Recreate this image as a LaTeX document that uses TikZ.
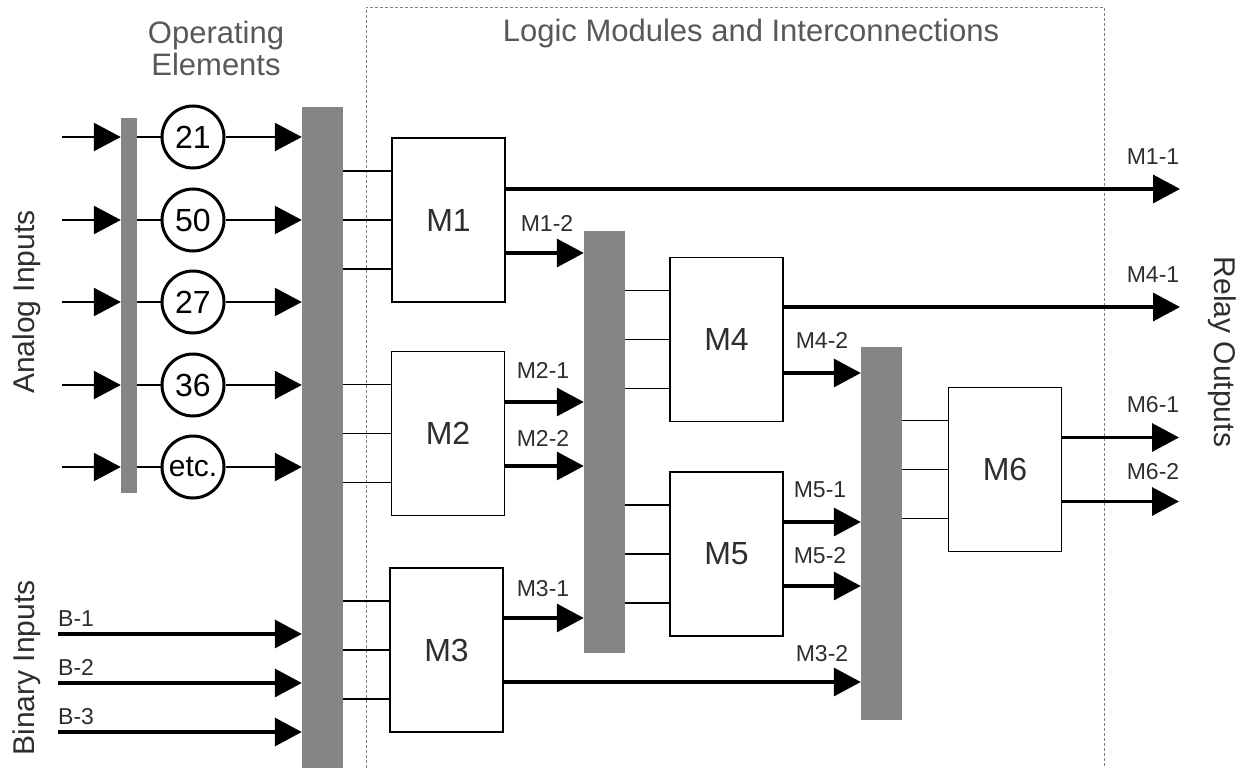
\documentclass[tikz,border=0pt]{standalone}
\usepackage{fontspec}
\setmainfont{Liberation Sans}
\usetikzlibrary{arrows.meta}
\definecolor{txt}{gray}{0.18}
\definecolor{busgray}{gray}{0.52}
\tikzset{
  bus/.style={rectangle, draw=none, fill=busgray, inner sep=0pt},
  module/.style={rectangle, draw=black, line width=1.6pt, fill=white, minimum width=113pt, minimum height=164pt, inner sep=0pt, text=txt, font=\fontsize{32}{32}\selectfont},
  elem/.style={circle, draw=black, line width=3pt, minimum size=62pt, inner sep=0pt, text=black, font=\fontsize{32}{32}\selectfont},
  sig/.style={line width=3.4pt, -{Triangle[length=27pt,width=28pt]}},
  thinsig/.style={line width=2.6pt, -{Triangle[length=27pt,width=28pt]}},
  wire/.style={line width=1.4pt},
  lbl/.style={text=txt, font=\fontsize{23}{23}\selectfont, inner sep=0pt},
  ttl/.style={text=txt!80, font=\fontsize{31}{32}\selectfont, inner sep=0pt, align=center},
  side/.style={text=txt, font=\fontsize{30}{30}\selectfont, inner sep=0pt},
  frame/.style={draw=gray, line width=0.8pt, dash pattern=on 3pt off 2pt}
}
\begin{document}
\begin{tikzpicture}[x=1pt,y=-1pt]
\useasboundingbox (0,0) rectangle (1247,768);
% frame
\coordinate (fbl) at (366,768);
\coordinate (ftl) at (366,7);
\coordinate (ftr) at (1104,7);
\coordinate (fbr) at (1104,768);
\draw[frame] (fbl) -- (ftl) -- (ftr) -- (fbr);
% titles
\node[ttl] (t1) at (216,48) {Operating\\Elements};
\node[ttl] (t2) at (751,33) {Logic Modules and Interconnections};
\node[side, rotate=90] (sa) at (27,302) {Analog Inputs};
\node[side, rotate=90] (sb) at (27,668) {Binary Inputs};
\node[side, rotate=-90] (sr) at (1222,352) {Relay Outputs};
% buses
\node[bus, minimum width=16pt, minimum height=375pt] (bus0) at (129,305.5) {};
\node[bus, minimum width=41pt, minimum height=661pt] (bus1) at (322.5,437.5) {};
\node[bus, minimum width=41pt, minimum height=422pt] (bus2) at (604.5,442) {};
\node[bus, minimum width=41pt, minimum height=373pt] (bus3) at (881.5,533.5) {};
% operating elements
\node[elem] (e1) at (193,137) {21};
\node[elem] (e2) at (193,220) {50};
\node[elem] (e3) at (193,302) {27};
\node[elem] (e4) at (193,385) {36};
\node[elem, font=\fontsize{30}{30}\selectfont] (e5) at (193,467) {etc.};
% analog inputs
\foreach \i/\y in {1/137,2/220,3/302,4/385,5/467}{
  \coordinate (a\i) at (62,\y);
  \draw[thinsig] (a\i) -- (a\i -| bus0.west);
  \draw[wire] (e\i -| bus0.east) -- (e\i.west);
  \draw[thinsig] (e\i.east) -- (e\i -| bus1.west);
}
% binary inputs
\foreach \i/\y in {1/634,2/683,3/732}{
  \coordinate (b\i) at (58,\y);
  \draw[sig] (b\i) -- (b\i -| bus1.west);
  \node[lbl, anchor=base west] (bl\i) at (58,\y-8) {B-\i};
}
% modules
\node[module] (M1) at (448.5,220) {M1};
\node[module] (M2) at (448,433.5) {M2};
\node[module] (M3) at (446.5,650) {M3};
\node[module] (M4) at (726.5,339.5) {M4};
\node[module] (M5) at (726.5,554) {M5};
\node[module] (M6) at (1005,469.5) {M6};
% module inputs
\foreach \m/\b in {M1/bus1,M2/bus1,M3/bus1,M4/bus2,M5/bus2,M6/bus3}{
  \foreach \s in {49,0,-49}{
    \draw[wire] ([yshift=\s pt]\m.west -| \b.east) -- ([yshift=\s pt]\m.west);
  }
}
% outputs
\coordinate (r1) at (1180,189);
\coordinate (r4) at (1180,307);
\coordinate (r61) at (1179,437);
\coordinate (r62) at (1179,502);
\draw[sig] (M1.east |- r1) -- (r1);
\draw[sig] (M4.east |- r4) -- (r4);
\draw[sig] ([yshift=32pt]M6.east) -- ([yshift=32pt]M6.east -| r61);
\draw[sig] ([yshift=-32pt]M6.east) -- ([yshift=-32pt]M6.east -| r62);
\draw[sig] ([yshift=-33pt]M1.east) -- ([yshift=-33pt]M1.east -| bus2.west);
\draw[sig] ([yshift=31.5pt]M2.east) -- ([yshift=31.5pt]M2.east -| bus2.west);
\draw[sig] ([yshift=-32.5pt]M2.east) -- ([yshift=-32.5pt]M2.east -| bus2.west);
\draw[sig] ([yshift=32pt]M3.east) -- ([yshift=32pt]M3.east -| bus2.west);
\draw[sig] ([yshift=-32pt]M3.east) -- ([yshift=-32pt]M3.east -| bus3.west);
\draw[sig] ([yshift=-33.5pt]M4.east) -- ([yshift=-33.5pt]M4.east -| bus3.west);
\draw[sig] ([yshift=32pt]M5.east) -- ([yshift=32pt]M5.east -| bus3.west);
\draw[sig] ([yshift=-32pt]M5.east) -- ([yshift=-32pt]M5.east -| bus3.west);
% output labels
\node[lbl] (l11) at (1153,157) {M1-1};
\node[lbl] (l41) at (1153,275) {M4-1};
\node[lbl] (l61) at (1153,405) {M6-1};
\node[lbl] (l62) at (1153,472) {M6-2};
\node[lbl] (l12) at (547,223) {M1-2};
\node[lbl] (l21) at (543,370) {M2-1};
\node[lbl] (l22) at (543,438) {M2-2};
\node[lbl] (l31) at (543,589) {M3-1};
\node[lbl] (l32) at (822,654) {M3-2};
\node[lbl] (l42) at (822,340) {M4-2};
\node[lbl] (l51) at (820,490) {M5-1};
\node[lbl] (l52) at (820,556) {M5-2};
\end{tikzpicture}
\end{document}
